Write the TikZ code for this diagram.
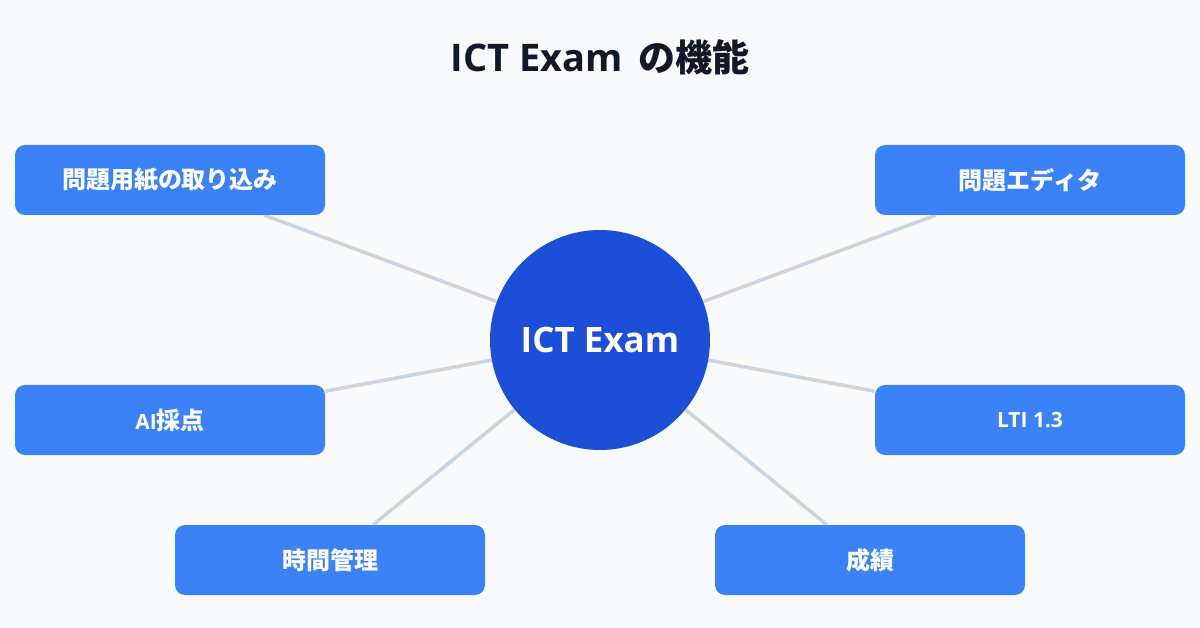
\documentclass[tikz,border=0pt]{standalone}
\usepackage{fontspec}
\setmainfont{Open Sans}
\newfontfamily\jpfont{Noto Sans CJK JP}
\usetikzlibrary{backgrounds}

\definecolor{pagebg}{HTML}{F8FAFC}
\definecolor{titleink}{HTML}{111827}
\definecolor{boxblue}{HTML}{3B82F6}
\definecolor{hubblue}{HTML}{1D4ED8}
\definecolor{spokegray}{HTML}{CBD5E1}

\newcommand{\jpbox}{\jpfont\fontsize{24}{28}\selectfont}

\begin{document}
\begin{tikzpicture}[x=1pt, y=-1pt,
          feature/.style={rectangle, rounded corners=10pt, fill=boxblue, text=white,
            minimum width=310pt, minimum height=70pt, inner sep=0pt,
            font=\bfseries\fontsize{21}{25}\selectfont},
          hub/.style={circle, fill=hubblue, text=white, minimum size=220pt, inner sep=0pt,
            font=\bfseries\fontsize{35}{40}\selectfont},
          spoke/.style={draw=spokegray, line width=3.5pt},
        ]
        \useasboundingbox (0, 0) rectangle (1200, 628);

        \node[text=titleink, font=\bfseries\fontsize{38}{44}\selectfont] (title) at (600, 57)
          {ICT Exam\hspace{6pt} {\jpfont\fontsize{37}{44}\selectfont の機能}};

        \node[hub] (exam) at (600, 340) {ICT Exam};

        \node[feature] (import) at (170, 180) {\jpbox 問題用紙の取り込み};
        \node[feature] (editor) at (1030, 180) {\jpbox 問題エディタ};
        \node[feature] (scoring) at (170, 420) {AI{\jpbox 採点}};
        \node[feature] (lti) at (1030, 420) {LTI 1.3};
        \node[feature] (timer) at (330, 560) {\jpbox 時間管理};
        \node[feature] (grades) at (870, 560) {\jpbox 成績};

        \begin{scope}[on background layer]
          \fill[pagebg] (0, 0) rectangle (1200, 628);
          \draw[spoke] (exam) -- (import);
          \draw[spoke] (exam) -- (editor);
          \draw[spoke] (exam) -- (scoring);
          \draw[spoke] (exam) -- (lti);
          \draw[spoke] (exam) -- (timer);
          \draw[spoke] (exam) -- (grades);
        \end{scope}
      \end{tikzpicture}
\end{document}
